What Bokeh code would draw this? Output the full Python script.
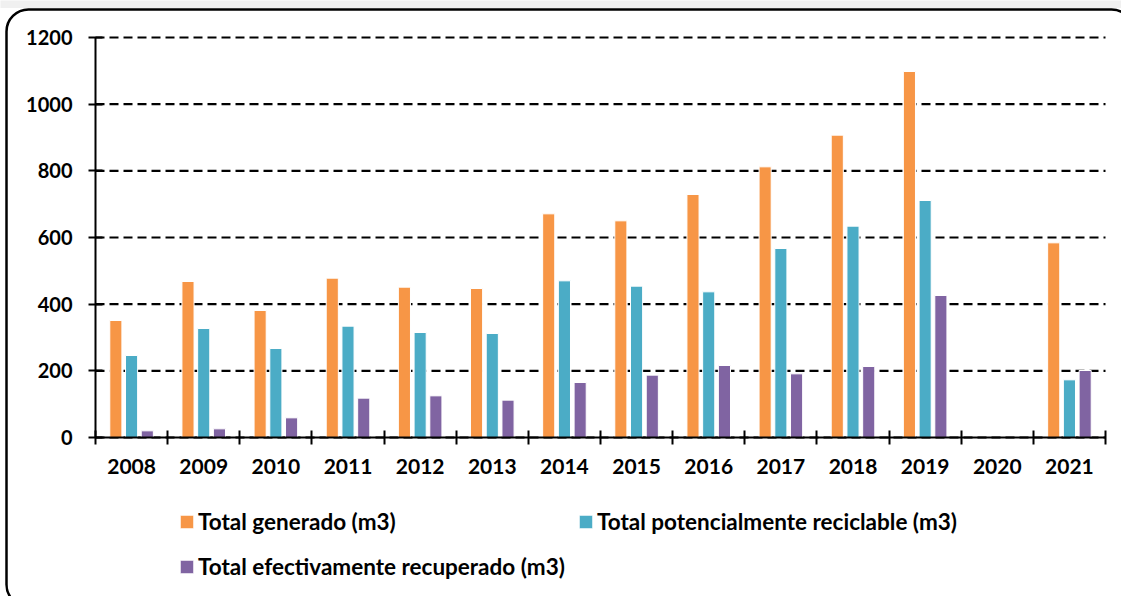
from bokeh.plotting import figure
from bokeh.models import (Range1d, FixedTicker, Legend, LegendItem, LinearAxis,
                          BoxAnnotation)
from bokeh.embed import file_html
from bokeh.resources import INLINE

years = ["2008", "2009", "2010", "2011", "2012", "2013", "2014",
         "2015", "2016", "2017", "2018", "2019", "2020", "2021"]
total_generado = [351, 468, 381, 478, 451, 447, 671, 650, 729, 812, 907, 1098, None, 584]
total_reciclable = [246, 327, 267, 334, 315, 312, 470, 454, 437, 567, 634, 711, None, 173]
total_recuperado = [20, 26, 59, 118, 125, 112, 165, 187, 216, 191, 213, 426, None, 201]
y_ticks = [0, 200, 400, 600, 800, 1000, 1200]

series_names = ["Total generado (m3)", "Total potencialmente reciclable (m3)",
                "Total efectivamente recuperado (m3)"]
colors = ["#F79646", "#4BACC6", "#8064A2"]

FONT = "Lato"
W, H = 1121, 596
# plot-area placement in pixels (canvas coordinates)
AX_LEFT, AX_RIGHT, AX_TOP, AX_BOTTOM = 95, 1105, 37, 437
n = len(years)
ymax = 1200
px_per_x = (AX_RIGHT - AX_LEFT) / n
px_per_y = (AX_BOTTOM - AX_TOP) / ymax
x_start = -AX_LEFT / px_per_x
x_end = n + (W - AX_RIGHT) / px_per_x
y_end = ymax + AX_TOP / px_per_y
y_start = -(H - AX_BOTTOM) / px_per_y


def cx(px):
    return x_start + px / px_per_x


def cy(py):
    return y_end - py / px_per_y


p = figure(width=W, height=H, output_backend="svg", toolbar_location=None,
           x_range=Range1d(x_start, x_end), y_range=Range1d(y_start, y_end),
           x_axis_location=None, y_axis_location=None, min_border=0)
p.outline_line_color = None
p.xgrid.visible = False
p.ygrid.visible = False

# light strip at the very top and rounded frame border
p.add_layout(BoxAnnotation(left=cx(-5), right=cx(W + 5), top=cy(-5), bottom=cy(7.5),
                           fill_color="#f0f0f0", fill_alpha=1, line_color=None,
                           level="underlay"))
p.add_layout(BoxAnnotation(left=cx(6), right=cx(W + 12), top=cy(9), bottom=cy(H + 10),
                           fill_color=None, fill_alpha=0, line_color="black",
                           line_width=2.5, line_alpha=1, border_radius=22,
                           level="underlay"))

# dashed horizontal gridlines, spanning only the category area
p.segment(x0=[0] * len(y_ticks), x1=[n] * len(y_ticks), y0=y_ticks, y1=y_ticks,
          line_color="black", line_width=2.2, line_dash="9 5")

offsets = [-0.218, 0.0, 0.218]
renderers = []
for vals, off, col in zip([total_generado, total_reciclable, total_recuperado], offsets, colors):
    xs = [i + 0.5 + off for i, v in enumerate(vals) if v is not None]
    tops = [v for v in vals if v is not None]
    r = p.vbar(x=xs, top=tops, width=0.168, bottom=0, fill_color=col,
               line_color="white", line_width=1)
    renderers.append(r)

# y axis
yaxis = LinearAxis(fixed_location=0, bounds=(0, ymax), ticker=FixedTicker(ticks=y_ticks),
                   axis_line_width=2, axis_line_color="black",
                   major_tick_line_width=2, major_tick_in=7, major_tick_out=7,
                   minor_tick_line_color=None,
                   major_label_text_font=FONT, major_label_text_font_style="bold",
                   major_label_text_font_size="20px", major_label_text_color="black",
                   major_label_standoff=16)
p.add_layout(yaxis, "left")

# x axis: labels at category centres, ticks at category boundaries
centers = [i + 0.5 for i in range(n)]
xaxis = LinearAxis(fixed_location=0, bounds=(0, n),
                   ticker=FixedTicker(ticks=centers, minor_ticks=list(range(n + 1))),
                   major_label_overrides={c: y for c, y in zip(centers, years)},
                   axis_line_width=2, axis_line_color="black",
                   major_tick_line_color=None, major_tick_in=0, major_tick_out=0,
                   minor_tick_line_color="black", minor_tick_line_width=2,
                   minor_tick_in=7, minor_tick_out=7,
                   major_label_text_font=FONT, major_label_text_font_style="bold",
                   major_label_text_font_size="21px", major_label_text_color="black",
                   major_label_standoff=14)
p.add_layout(xaxis, "below")

legend_pos = [(178, H - 535), (577, H - 535), (178, H - 580)]
for r, name, loc in zip(renderers, series_names, legend_pos):
    lg = Legend(items=[LegendItem(label=name, renderers=[r])], location=loc,
                glyph_width=17, glyph_height=17, label_standoff=3,
                label_text_font=FONT, label_text_font_style="bold",
                label_text_font_size="22.5px", label_text_color="black",
                padding=0, margin=0, border_line_color=None,
                background_fill_alpha=0, label_height=24)
    p.add_layout(lg, "center")

open("out.html", "w").write(file_html(p, INLINE))
